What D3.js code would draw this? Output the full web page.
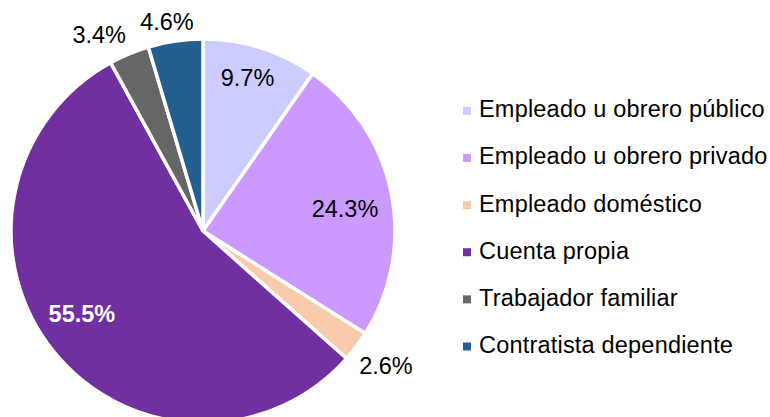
<!DOCTYPE html>
<html><head><meta charset="utf-8">
<script src="https://cdn.jsdelivr.net/npm/d3@7"></script>
<style>body{margin:0;background:#fff}svg{display:block}text{font-family:"Liberation Sans",Arial,sans-serif}</style>
</head><body><svg id="c" width="770" height="417"></svg>
<script>
const categories = ["Empleado u obrero público","Empleado u obrero privado","Empleado doméstico","Cuenta propia","Trabajador familiar","Contratista dependiente"];
const values = [9.7, 24.3, 2.6, 55.5, 3.4, 4.6];
const labels = ["9.7%","24.3%","2.6%","55.5%","3.4%","4.6%"];
const colors = ["#CCCCFF","#CC99FF","#F8CBAD","#7030A0","#666666","#236090"];
const labelRadiusFactor = [0.82, 0.73, 1.19, 0.76, 1.16, 1.11];
const labelNudge = [[-2.7,-2.8],[4.6,5.8],[0.4,-2.3],[-7,-8.5],[-18,9.5],[-5.4,1.4]];

const svg = d3.select("#c");
const cx = 203, cy = 231, R = 192;
const g = svg.append("g").attr("transform", `translate(${cx},${cy})`);
const pie = d3.pie().sort(null).value(d => d);
const arcs = pie(values);
const arc = d3.arc().innerRadius(0).outerRadius(R);
g.selectAll("path").data(arcs).join("path")
  .attr("d", arc).attr("fill", (d,i) => colors[i])
  .attr("stroke", "#fff").attr("stroke-width", 3.5).attr("stroke-linejoin","miter");
g.selectAll("text.lbl").data(arcs).join("text").attr("class","lbl")
  .attr("transform", (d,i) => {
    const a = d3.arc().innerRadius(R*labelRadiusFactor[i]).outerRadius(R*labelRadiusFactor[i]);
    const [x,y] = a.centroid(d);
    return `translate(${x+labelNudge[i][0]},${y+labelNudge[i][1]})`;
  })
  .attr("text-anchor","middle").attr("dy","0.35em")
  .attr("font-size", 23.5)
  .attr("font-weight", (d,i) => i===3 ? "bold" : "normal")
  .attr("fill", (d,i) => i===3 ? "#fff" : "#000")
  .text((d,i) => labels[i]);

const leg = svg.append("g").attr("transform","translate(463,0)");
const ly = d3.scalePoint().domain(categories).range([117.3, 353]);
categories.forEach((c,i) => {
  leg.append("rect").attr("x",0).attr("y",ly(c)-10.5).attr("width",8).attr("height",8).attr("fill",colors[i]);
  leg.append("text").attr("x",16).attr("y",ly(c)).attr("font-size",23.5).attr("letter-spacing","0.2px").attr("fill","#000").text(c);
});
</script></body></html>
